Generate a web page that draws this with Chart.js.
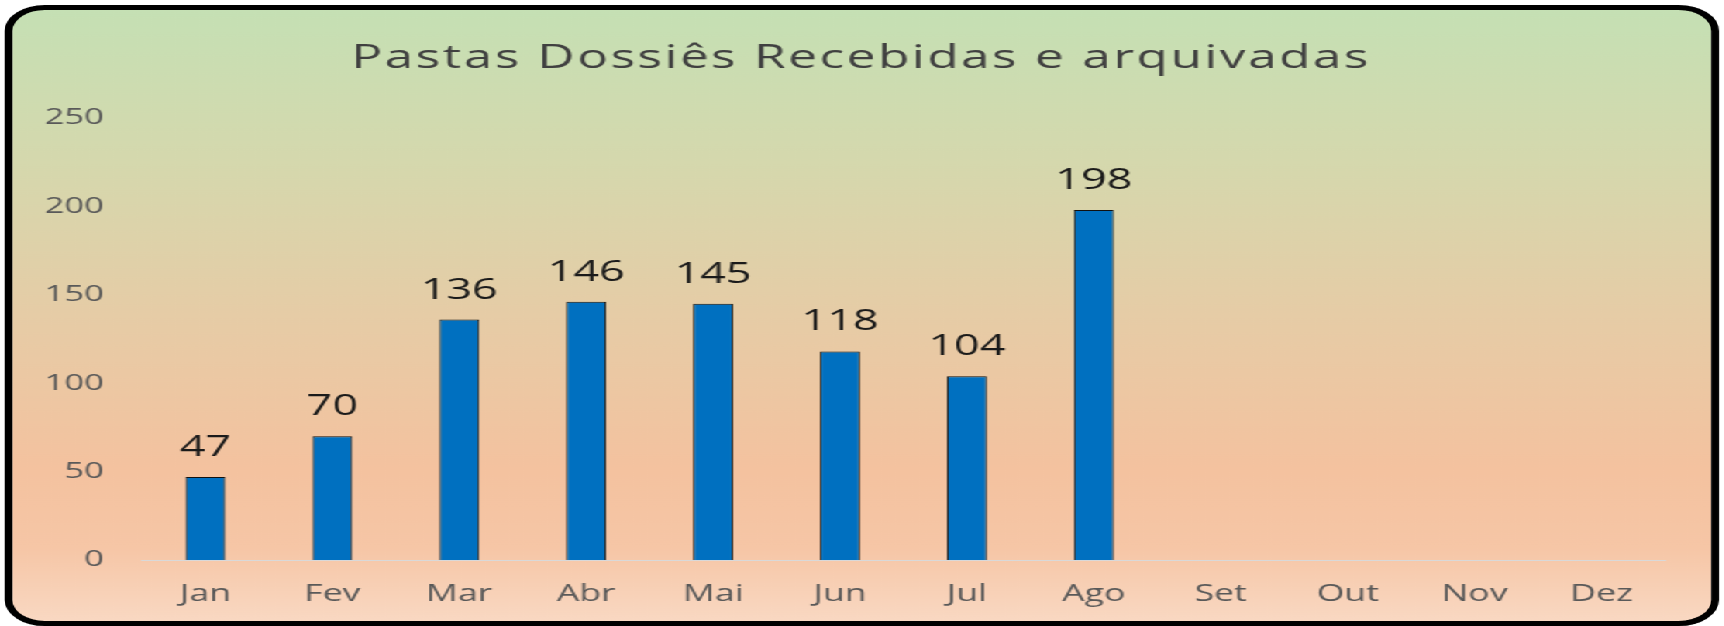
<!DOCTYPE html>
<html>
<head>
<meta charset="utf-8">
<script src="https://cdn.jsdelivr.net/npm/chart.js@4.4.1/dist/chart.umd.min.js"></script>
<style>
  html, body { margin: 0; padding: 0; background: #fff; overflow: hidden; }
  /* the reference is stretched sideways, so the chart is drawn narrow and scaled */
  #wrap {
    position: absolute; left: 0; top: 0;
    width: 1113px; height: 626px;
    transform: scaleX(1.55); transform-origin: 0 0;
  }
  #frame {
    position: absolute; left: 3.2px; top: 5px;
    width: 1105.8px; height: 621px;
    box-sizing: border-box;
    border: 5px solid #000;
    border-radius: 26px;
    background: linear-gradient(to bottom, #c5e0b4 0%, #d5d8ad 25%, #e6cca6 50%, #f4c29f 75%, #f6c6a6 88%, #f9d8c2 100%);
  }
  #chart { position: absolute; left: 0; top: 0; }
</style>
</head>
<body>
<div id="wrap">
  <div id="frame"></div>
  <canvas id="chart" width="1113" height="626"></canvas>
</div>
<script>
// Data
const months = ['Jan','Fev','Mar','Abr','Mai','Jun','Jul','Ago','Set','Out','Nov','Dez'];
const recebidas = [47, 70, 136, 146, 145, 118, 104, 198, null, null, null, null];
const yTicks = [0, 50, 100, 150, 200, 250];
const titleText = 'Pastas Dossiês Recebidas e arquivadas';

const FONT = '"Open Sans", sans-serif';

// Title, spread out to the reference's width
const titlePlugin = {
  id: 'wideTitle',
  afterDraw(chart) {
    const ctx = chart.ctx;
    ctx.save();
    ctx.font = '33px ' + FONT;
    ctx.fillStyle = '#404040';
    ctx.textBaseline = 'alphabetic';
    const target = 656;
    const w = ctx.measureText(titleText).width;
    const sp = Math.max(0, (target - w) / (titleText.length - 1));
    ctx.letterSpacing = sp + 'px';
    ctx.textAlign = 'left';
    ctx.fillText(titleText, 554.8 - target / 2, 67.5);
    ctx.restore();
  }
};

// Value labels above the bars
const valueLabels = {
  id: 'valueLabels',
  afterDatasetsDraw(chart) {
    const ctx = chart.ctx;
    const meta = chart.getDatasetMeta(0);
    ctx.save();
    ctx.font = '29px ' + FONT;
    ctx.fillStyle = '#1a1a1a';
    ctx.textAlign = 'center';
    ctx.textBaseline = 'alphabetic';
    meta.data.forEach((bar, i) => {
      const v = recebidas[i];
      if (v == null) return;
      ctx.fillText(String(v), bar.x, bar.y - 21);
    });
    ctx.restore();
  }
};

const ctx = document.getElementById('chart').getContext('2d');
new Chart(ctx, {
  type: 'bar',
  data: {
    labels: months,
    datasets: [{
      label: 'Pastas Dossiês',
      data: recebidas,
      backgroundColor: '#0070c0',
      borderColor: '#111',
      borderWidth: 1,
      categoryPercentage: 1,
      barPercentage: 0.315
    }]
  },
  options: {
    responsive: false,
    animation: false,
    layout: { padding: { left: 0, right: 0, top: 118, bottom: 0 } },
    plugins: {
      legend: { display: false },
      tooltip: { enabled: false },
      title: { display: false }
    },
    scales: {
      x: {
        grid: { display: false },
        border: { display: true, color: '#d9d9d9', width: 1 },
        ticks: { color: '#595959', font: { family: FONT, size: 23 }, padding: 13 },
        afterFit: (scale) => { scale.height = 66; }
      },
      y: {
        min: 0,
        max: 250,
        grid: { display: false, drawTicks: false },
        border: { display: false },
        afterBuildTicks: (scale) => { scale.ticks = yTicks.map(v => ({ value: v })); },
        ticks: { color: '#595959', font: { family: FONT, size: 22.4 }, padding: 24.5 },
        afterFit: (scale) => { scale.width = 91.6; }
      },
      // empty right-hand axis, only to leave the blank strip on the right
      yRight: {
        position: 'right',
        grid: { display: false },
        border: { display: false },
        ticks: { display: false },
        afterFit: (scale) => { scale.width = 38.8; }
      }
    }
  },
  plugins: [valueLabels, titlePlugin]
});
</script>
</body>
</html>
